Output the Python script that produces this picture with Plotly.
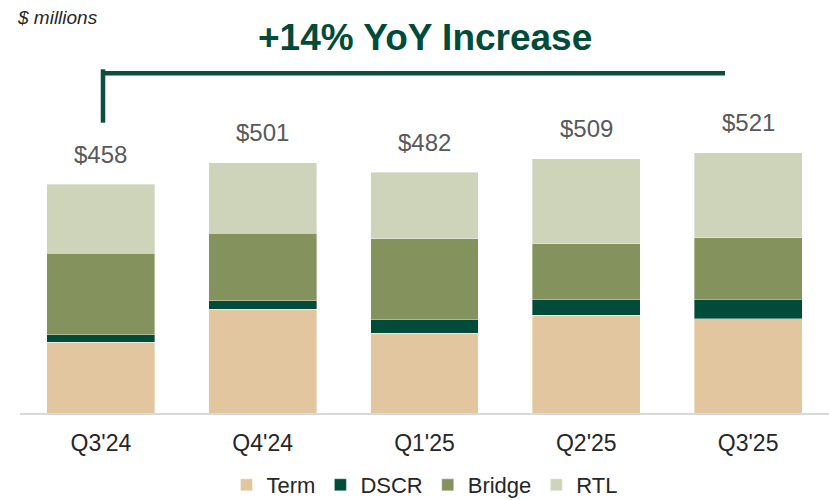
import plotly.graph_objects as go

categories = ["Q3'24", "Q4'24", "Q1'25", "Q2'25", "Q3'25"]
term = [142, 208, 160, 196, 189]
dscr = [15, 17, 27, 31, 39]
bridge = [163, 135, 162, 112, 123]
rtl = [138, 141, 133, 170, 170]
totals = [458, 501, 482, 509, 521]
total_labels = ["$458", "$501", "$482", "$509", "$521"]

series = [
    ("Term", term, "#E2C6A0"),
    ("DSCR", dscr, "#004B3A"),
    ("Bridge", bridge, "#84935D"),
    ("RTL", rtl, "#CED4BA"),
]

FONT = "Liberation Sans, Arial, sans-serif"

fig = go.Figure()
for name, vals, color in series:
    fig.add_trace(go.Bar(
        x=categories, y=vals, name=name,
        marker=dict(color=color, line=dict(color="rgba(255,255,255,0.45)", width=0.8)),
        hoverinfo="skip",
    ))

for c, t, lab in zip(categories, totals, total_labels):
    fig.add_annotation(x=c, y=t, text=lab, showarrow=False, yanchor="middle",
                       yshift=30, font=dict(family=FONT, size=24, color="#595959"))

W, H = 829, 500
ml, mr, mt, mb = 20, 0, 13, 87
pw, ph = W - ml - mr, H - mt - mb

def px_x(p):
    return (p - ml) / pw

def px_y(p):
    return (H - mb - p) / ph

fig.add_annotation(xref="paper", yref="paper", x=px_x(425), y=px_y(37), text="<b>+14% YoY Increase</b>",
                   showarrow=False, xanchor="center", yanchor="middle",
                   font=dict(family=FONT, size=37, color="#004B3A"))
fig.add_annotation(xref="paper", yref="paper", x=px_x(15), y=px_y(17.5), text="<i>$ millions</i>",
                   showarrow=False, xanchor="left", yanchor="middle",
                   font=dict(family=FONT, size=19, color="#262626"))

line_color = "#0B4F3C"
fig.add_shape(type="line", xref="paper", yref="paper", x0=px_x(101), x1=px_x(725),
              y0=px_y(73.3), y1=px_y(73.3), line=dict(color=line_color, width=4.5))
fig.add_shape(type="line", xref="paper", yref="paper", x0=px_x(103), x1=px_x(103),
              y0=px_y(69.3), y1=px_y(122.7), line=dict(color=line_color, width=4.5))

fig.update_layout(
    width=W, height=H,
    margin=dict(l=ml, r=mr, t=mt, b=mb, autoexpand=False),
    barmode="stack", bargap=0.333,
    plot_bgcolor="white", paper_bgcolor="white",
    font=dict(family=FONT, size=23, color="#262626"),
    xaxis=dict(showline=True, linecolor="#D9D9D9", linewidth=2, ticks="",
               ticklabelstandoff=8,
               tickfont=dict(family=FONT, size=23, color="#262626"), showgrid=False),
    yaxis=dict(range=[0, 800], visible=False, showgrid=False),
    legend=dict(orientation="h", x=0.5, xanchor="center", y=px_y(464), yanchor="top",
                font=dict(family=FONT, size=22, color="#262626"), traceorder="normal",
                itemwidth=30, bgcolor="rgba(0,0,0,0)"),
    showlegend=True,
)

fig.write_html("out.html", config={"displayModeBar": False},
               post_script="document.body.style.margin='0';document.body.style.overflow='hidden';")
